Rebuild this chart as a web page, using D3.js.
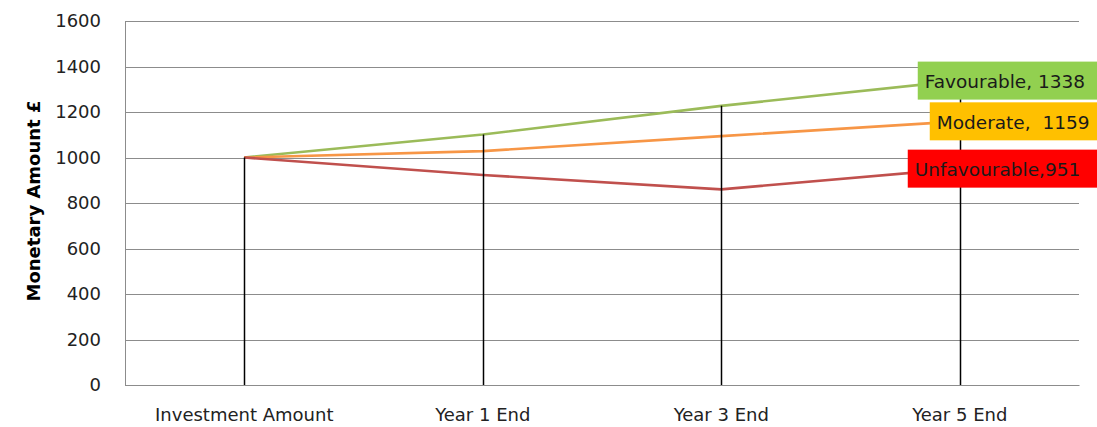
<!DOCTYPE html>
<html>
<head>
<meta charset="utf-8">
<script src="https://cdn.jsdelivr.net/npm/d3@7"></script>
<style>
  body { margin: 0; background: #fff; }
  svg { display: block; font-family: "DejaVu Sans", sans-serif; }
</style>
</head>
<body>
<svg width="1097" height="427"></svg>
<script>
// categories along the x axis
const categories = ['Investment Amount', 'Year 1 End', 'Year 3 End', 'Year 5 End'];

// scenario values (£)
const favourable = [1000, 1101, 1227, 1338];
const moderate = [1000, 1028, 1094, 1159];
const unfavourable = [1000, 923, 860, 951];

const seriesNames = ['Favourable', 'Moderate', 'Unfavourable'];
const yTicks = [0, 200, 400, 600, 800, 1000, 1200, 1400, 1600];

const margin = { left: 125, right: 18, top: 21, bottom: 42 };

const svg = d3.select('svg');
const width = +svg.attr('width');
const height = +svg.attr('height');
const innerWidth = width - margin.left - margin.right;
const innerHeight = height - margin.top - margin.bottom;

const series = [
  { name: seriesNames[0], values: favourable, color: '#9bbb59', box: '#92d050', labelText: 'Favourable, 1338', dx: -42 },
  { name: seriesNames[1], values: moderate, color: '#f79646', box: '#ffc000', labelText: 'Moderate,  1159', dx: -30 },
  { name: seriesNames[2], values: unfavourable, color: '#c0504d', box: '#ff0000', labelText: 'Unfavourable,951', dx: -52 }
];

const xScale = d3.scaleBand()
  .domain(categories)
  .range([0, innerWidth]);

const yScale = d3.scaleLinear()
  .domain([0, 1600])
  .range([innerHeight, 0]);

const xc = d => xScale(d) + xScale.bandwidth() / 2;

const g = svg.append('g')
  .attr('transform', `translate(${margin.left}, ${margin.top})`);

// gridlines
g.append('g')
  .selectAll('line')
  .data(yTicks)
  .enter()
  .append('line')
  .attr('x1', 0)
  .attr('x2', innerWidth)
  .attr('y1', d => Math.round(yScale(d)) + 0.5)
  .attr('y2', d => Math.round(yScale(d)) + 0.5)
  .attr('stroke', '#8c8c8c')
  .attr('stroke-width', 1);

// y axis (labels only + left line)
const yAxis = d3.axisLeft(yScale)
  .tickValues(yTicks)
  .tickFormat(d3.format('d'))
  .tickSize(0)
  .tickPadding(24);
g.append('g')
  .call(yAxis)
  .call(a => a.select('.domain').attr('stroke', '#8c8c8c'))
  .selectAll('text')
  .attr('font-size', 18)
  .attr('font-family', '"DejaVu Sans", sans-serif')
  .attr('fill', '#222');

// x axis
const xAxis = d3.axisBottom(xScale).tickSize(0).tickPadding(23);
g.append('g')
  .attr('transform', `translate(0, ${innerHeight})`)
  .call(xAxis)
  .call(a => a.select('.domain').attr('stroke', '#8c8c8c'))
  .selectAll('text')
  .attr('font-size', 18)
  .attr('font-family', '"DejaVu Sans", sans-serif')
  .attr('fill', '#222');

// y axis title
svg.append('text')
  .attr('transform', `translate(40, ${margin.top + innerHeight / 2 - 2}) rotate(-90)`)
  .attr('text-anchor', 'middle')
  .attr('font-size', 18)
  .attr('font-weight', 'bold')
  .attr('fill', '#000')
  .text('Monetary Amount £');

// lines
const line = d3.line()
  .x((d, i) => xc(categories[i]))
  .y(d => yScale(d));

g.selectAll('.series')
  .data(series)
  .enter()
  .append('path')
  .attr('class', 'series')
  .attr('d', d => line(d.values))
  .attr('fill', 'none')
  .attr('stroke', d => d.color)
  .attr('stroke-width', 2.6)
  .attr('stroke-linejoin', 'round');

// drop lines from the top value down to the axis
g.selectAll('.drop')
  .data(categories)
  .enter()
  .append('line')
  .attr('class', 'drop')
  .attr('x1', d => Math.round(xc(d)) + 0.5)
  .attr('x2', d => Math.round(xc(d)) + 0.5)
  .attr('y1', (d, i) => yScale(d3.max(series, s => s.values[i])))
  .attr('y2', innerHeight)
  .attr('stroke', '#000')
  .attr('stroke-width', 1.5);

// data labels at the last point, boxes run to the right edge
const last = categories.length - 1;
const labelLeft = d => xc(categories[last]) + d.dx;
const labels = g.selectAll('.label')
  .data(series)
  .enter()
  .append('g')
  .attr('class', 'label')
  .attr('transform', d => `translate(${labelLeft(d)}, ${yScale(d.values[last])})`);

labels.append('rect')
  .attr('x', 0)
  .attr('y', -19)
  .attr('width', d => width - margin.left - labelLeft(d))
  .attr('height', 38)
  .attr('fill', d => d.box);

labels.append('text')
  .attr('x', 7)
  .attr('y', 0)
  .attr('dy', '0.4em')
  .attr('font-size', 18.5)
  .attr('fill', '#1a1a1a')
  .style('white-space', 'pre')
  .text(d => d.labelText);
</script>
</body>
</html>
